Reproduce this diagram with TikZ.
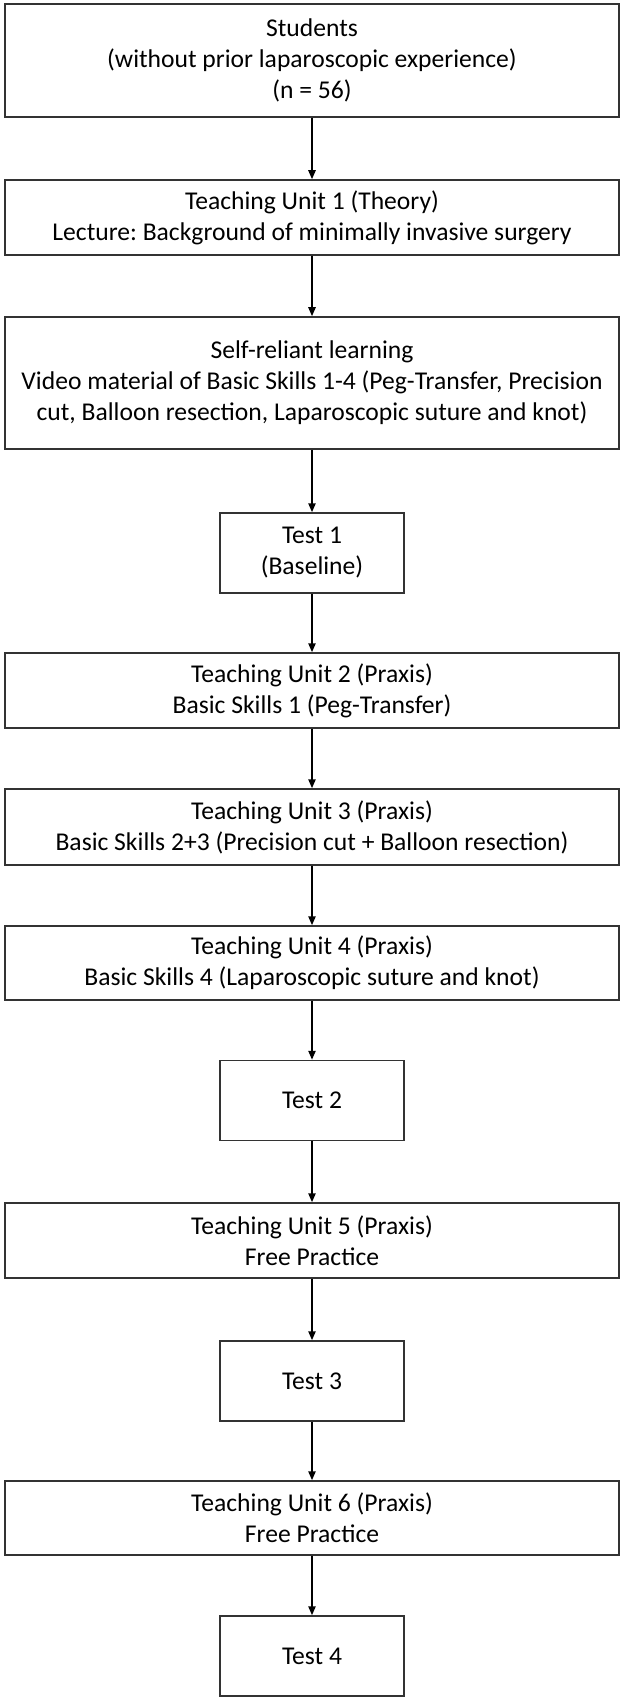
\documentclass[tikz,border=0pt]{standalone}
\usepackage{fontspec}
\setmainfont{Carlito}
\usetikzlibrary{arrows.meta}
\frenchspacing

\begin{document}
\begin{tikzpicture}[x=0.5pt,y=-0.5pt,
  box/.style={draw=black!80,line width=0.75pt,align=center,inner sep=0pt,minimum width=307pt,font=\fontsize{12.8pt}{15.5pt}\selectfont},
  testbox/.style={box,minimum width=92pt,minimum height=40pt},
  flow/.style={-{Triangle[length=4.5pt,width=3.6pt]},line width=0.9pt}]
\useasboundingbox (0,0) rectangle (626,1701);
\node[box,minimum height=56.5pt] (students) at (312,60.5) {Students\\(without prior laparoscopic experience)\\(n = 56)};
\node[box,minimum height=37.5pt] (tu1) at (312,217.5) {Teaching Unit 1 (Theory)\\Lecture: Background of minimally invasive surgery};
\node[box,minimum height=66pt] (selfstudy) at (312,383) {Self-reliant learning\\Video material of Basic Skills 1-4 (Peg-Transfer, Precision\\cut, Balloon resection, Laparoscopic suture and knot)};
\node[testbox] (test1) at (312,553) {Test 1\\(Baseline)};
\node[box,minimum height=37.5pt] (tu2) at (312,690.5) {Teaching Unit 2 (Praxis)\\Basic Skills 1 (Peg-Transfer)};
\node[box,minimum height=38pt] (tu3) at (312,827) {Teaching Unit 3 (Praxis)\\Basic Skills 2+3 (Precision cut + Balloon resection)};
\node[box,minimum height=37pt] (tu4) at (312,963) {Teaching Unit 4 (Praxis)\\Basic Skills 4 (Laparoscopic suture and knot)};
\node[testbox] (test2) at (312,1100.5) {Test 2};
\node[box,minimum height=37.5pt] (tu5) at (312,1240.5) {Teaching Unit 5 (Praxis)\\Free Practice};
\node[testbox] (test3) at (312,1381) {Test 3};
\node[box,minimum height=37pt] (tu6) at (312,1518) {Teaching Unit 6 (Praxis)\\Free Practice};
\node[testbox] (test4) at (312,1656) {Test 4};
\foreach \a/\b in {students/tu1,tu1/selfstudy,selfstudy/test1,test1/tu2,tu2/tu3,tu3/tu4,tu4/test2,test2/tu5,tu5/test3,test3/tu6,tu6/test4}
\draw[flow] (\a) -- (\b);
\end{tikzpicture}
\end{document}
